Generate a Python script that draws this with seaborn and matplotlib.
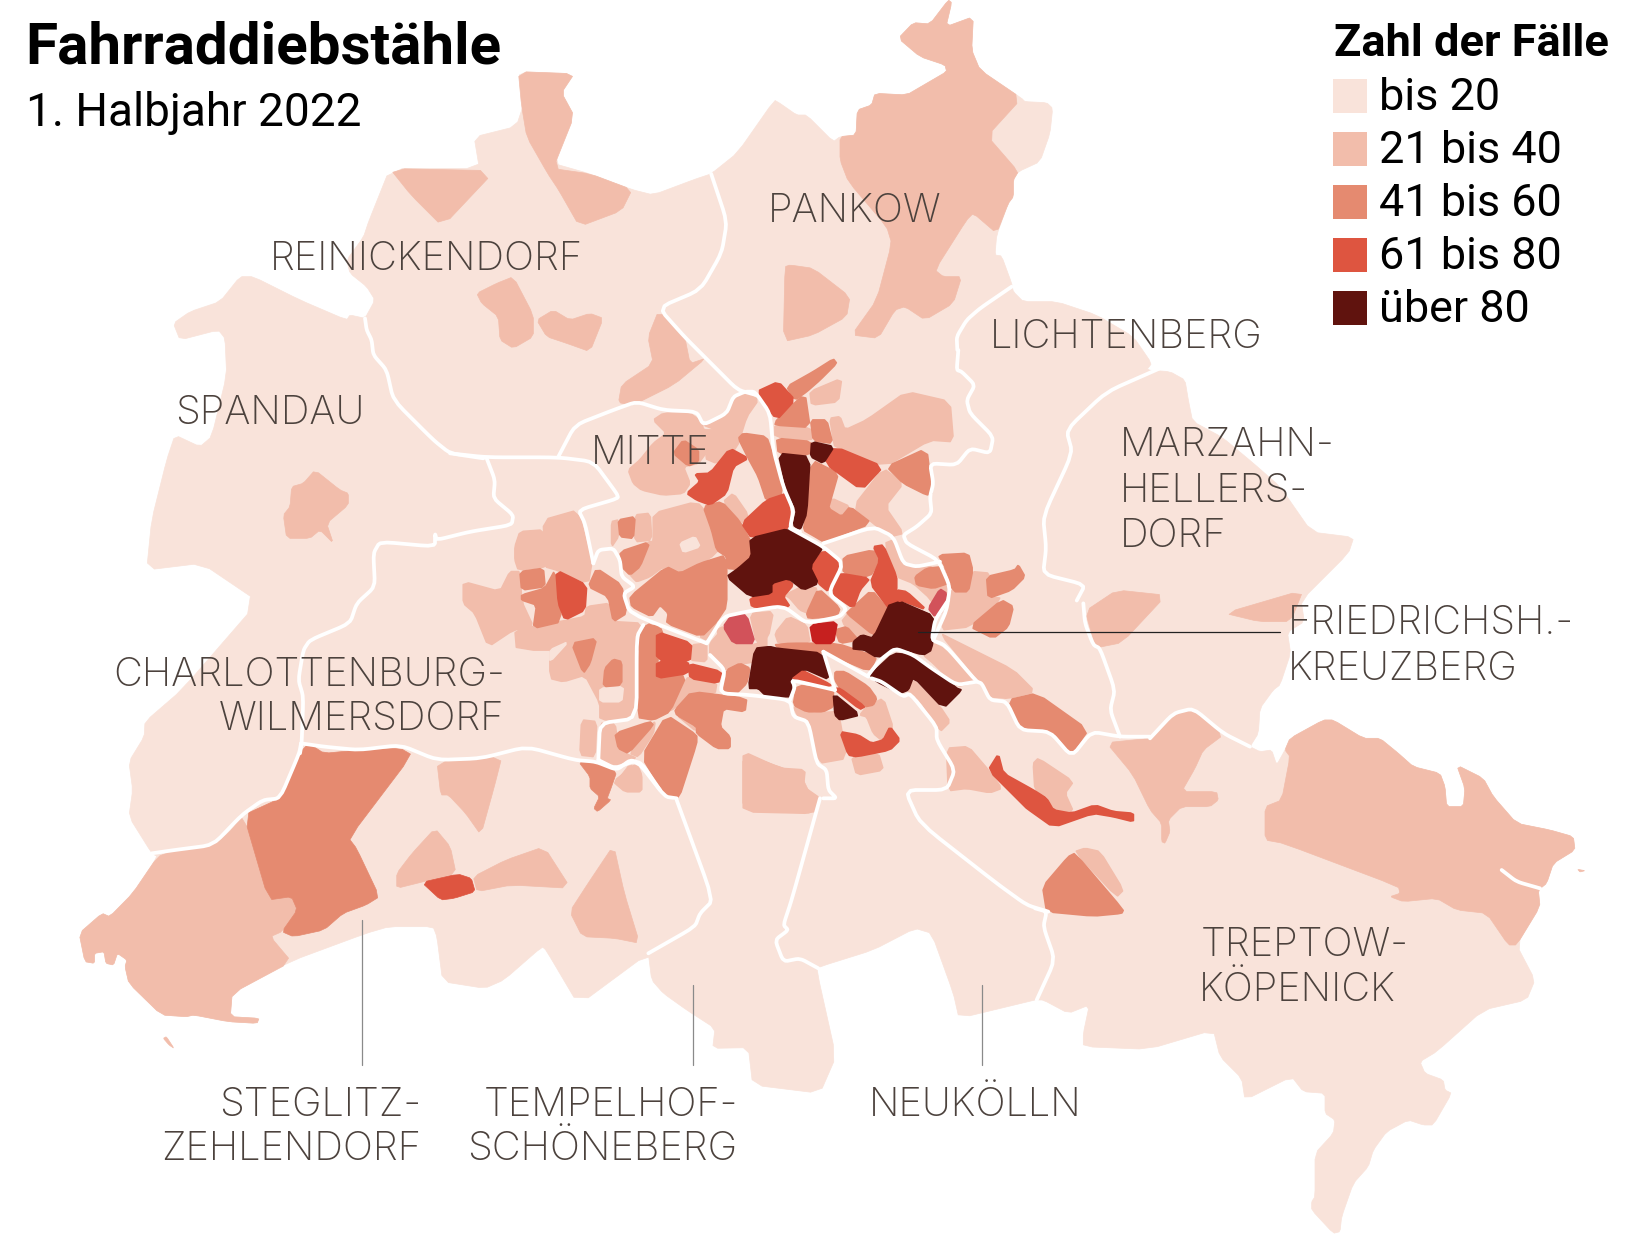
import matplotlib
matplotlib.use("Agg")
import matplotlib.pyplot as plt
import seaborn as sns

TITLE = "Fahrraddiebstähle"
SUBTITLE = "1. Halbjahr 2022"
LEGEND_TITLE = "Zahl der Fälle"
LEVEL_LABELS = ["bis 20", "21 bis 40", "41 bis 60", "61 bis 80", "über 80"]
LEVEL_COLORS = ["#f9e3da", "#f2bdab", "#e58a70", "#de5540", "#60130e"]
RED = "#c6201f"
PINK = "#d2525a"
TEXT_GREY = "#4c423d"

# Map geometry: each traced block is stated in its own reading frame (origin, x step, y step)
K = 1652 / 1568
VIEW = (0, 0, K, K)
Z2 = (450, 350, 1/3, 1/3)
Z3 = (700, 350, 1/3, 1/3)
Z4 = (550, 600, 1/3, 1/3)
Z5 = (800, 600, 1/3, 1/3)
Z6 = (620, 780, 1/3, 1/3)
Z7 = (60, 720, 600/1568, 1/3)
ZA = (1150, 690, 1/3, 1/3)
ZB = (1000, 950, 1/3, 1/3)
ZC = (100, 260, 1/3, 1/3)
ZD = (780, 0, 1/3, 1/3)


def P(frame, pts):
    x0, y0, sx, sy = frame
    return [(x0 + x * sx, y0 + y * sy) for x, y in pts]


def rounded(pts, closed=True, rounds=1, cut=0.14):
    for _ in range(rounds):
        out = []
        n = len(pts)
        last = n if closed else n - 1
        if not closed:
            out.append(pts[0])
        for i in range(last):
            a, b = pts[i], pts[(i + 1) % n]
            out.append((a[0] + (b[0] - a[0]) * cut, a[1] + (b[1] - a[1]) * cut))
            out.append((a[0] + (b[0] - a[0]) * (1 - cut), a[1] + (b[1] - a[1]) * (1 - cut)))
        if not closed:
            out.append(pts[-1])
        pts = out
    return pts


OUTLINE_PANKOW_N = [(355,115),(400,68),(450,72),(505,0),(515,8),(498,80),(580,50),(575,150),(600,210),(725,295),(735,305),(800,308),(818,325),(810,400),(780,485),(715,515),(700,540),(700,590),(685,610),(650,705),(645,765),(665,768),(695,850),(700,875),(730,905),(830,905),(950,945),(1060,1010),(1115,1090),(1100,1110),(1170,1115),(1215,1140),(1225,1200)]
OUTLINE_MARZAHN_E = [(1132,400),(1160,415),(1190,440),(1215,462),(1245,505),(1285,510),(1280,525),(1235,570),(1238,590),(1222,600),(1225,620),(1215,650)]
OUTLINE_TREPTOW_E = [(370,0),(330,55),(325,130),(300,170),(330,185),(365,180),(380,225),(405,180),(420,145),(520,90),(550,90),(640,145),(690,145),(745,190),(790,230),(870,250),(885,290),(890,350),(940,350),(945,295),(920,225),(1000,265),(1030,320),(1100,400),(1200,420),(1270,440),(1275,480),(1210,520),(1190,580),(1165,600),(1170,650),(1100,765),(1155,870),(1130,930),(1000,960),(860,1085),(810,1115),(825,1150),(880,1170),(885,1200)]
OUTLINE_TREPTOW_S = [(1355,430),(1300,525),(1270,525),(1225,510),(1160,545),(1120,600),(1105,650),(1060,700),(1025,800),(1020,845),(1000,850),(935,780),(935,755),(945,740),(945,610),(1000,550),(1005,510),(975,490),(975,430),(910,425),(875,380),(735,450),(725,385),(660,320),(640,240),(445,298)]
OUTLINE_SOUTH = [(250,290),(250,250),(268,165),(205,190),(130,150),(105,150)]
OUTLINE_NEUKOELLN = [(1245,660),(1017,715),(1000,640),(935,460),(885,445),(760,510),(600,560),(590,570),(648,830),(600,940),(398,915),(385,803),(278,805),(285,745),(200,690),(130,640),(95,600),(85,520)]
OUTLINE_SOUTH_WEST = [(1355,855),(1270,690),(1260,680),(1160,780),(1110,805),(1000,785),(985,650),(975,620),(860,620),(800,640),(600,725),(450,820),(445,890),(520,895),(515,910),(440,905),(350,885),(330,890),(265,885),(180,790),(170,740),(175,720),(150,700),(140,735),(120,730),(115,695),(90,700),(90,730),(65,725),(50,640),(110,580),(130,590),(190,520),(255,410),(240,400),(180,290),(190,210),(180,125),(220,50)]
OUTLINE_SPANDAU = [(135,1385),(245,1290),(475,1025),(305,910),(140,930),(155,780),(200,600),(225,525),(300,560),(335,530),(380,345),(375,235),(355,210),(240,240),(220,190),(270,155),(360,125),(420,50),(460,50),(600,120),(740,180),(750,165),(795,175),(825,120),(800,80),(750,40),(740,0)]
OUTLINE_REINICKENDORF_N = [(345,225),(350,210),(370,160),(455,160),(450,130),(490,120),(500,90),(492,68),(545,70),(533,88),(545,110),(525,155),(560,165),(600,180),(620,185),(660,170),(675,165),(700,145),(735,95)]
OUTLINE_PANKOW_W = [(0,310),(50,345),(80,345),(160,425),(180,410),(228,405),(232,330),(275,315),(285,280),(380,285),(440,250),(500,215),(495,195),(420,170)]
ISLET = [(270,955),(278,950),(298,985),(285,975)]
ISLET_EAST = [(1283,538),(1305,542),(1290,546)]

# (level, points): level 0..4 follows LEVEL_LABELS
VIEW_AREAS = [
    (1, [(492,68),(545,70),(533,88),(545,110),(525,160),(560,165),(600,180),(590,200),(550,215),(530,180),(520,165),(500,130),(495,100)]),
    (1, [(370,160),(470,162),(420,215),(390,185)]),
    (1, [(625,295),(650,320),(655,345),(670,340),(640,365),(600,385),(587,382),(590,365),(620,345),(615,320)]),
    (1, [(705,715),(760,735),(778,772),(705,770)]),
    (1, [(1030,580),(1060,560),(1107,565),(1065,610),(1040,615)]),
    (1, [(1162,582),(1237,560),(1225,590),(1195,590)]),
]
ZA_AREAS = [
    (1, [(405,180),(420,145),(520,90),(550,90),(640,145),(690,145),(745,190),(790,230),(870,250),(885,290),(890,350),(940,350),(945,295),(920,225),(1000,265),(1030,320),(1100,400),(1200,420),(1270,440),(1275,480),(1210,520),(1190,580),(1165,600),(1170,650),(1100,765),(1075,765),(1010,670),(920,660),(860,625),(760,635),(720,620),(750,610),(745,590),(400,460),(345,450),(345,350),(395,330),(420,200)]),
    (1, [(-131,158),(0,145),(70,70),(130,60),(220,135),(160,180),(135,235),(95,305),(200,305),(205,330),(180,350),(95,350),(55,390),(60,425),(45,460),(35,455),(35,400),(0,360),(-52,253)]),
    (1, ISLET_EAST),
]
ZC_AREAS = [
    (1, [(645,630),(720,690),(745,700),(745,735),(680,790),(700,850),(660,810),(630,835),(560,835),(550,765),(570,740),(575,680),(610,670)]),
    (1, [(1130,100),(1190,70),(1240,50),(1300,165),(1300,230),(1240,265),(1200,240),(1195,170),(1145,130)]),
    (1, [(1310,180),(1360,150),(1410,180),(1470,160),(1510,175),(1470,275),(1400,250),(1340,230)]),
]
ZD_AREAS = [
    (1, [(355,115),(400,68),(450,72),(505,0),(515,8),(498,80),(580,50),(575,150),(600,210),(725,295),(622,408),(715,515),(700,540),(700,590),(685,610),(650,700),(580,640),(560,660),(465,810),(490,830),(545,830),(520,910),(435,960),(375,920),(345,930),(295,1015),(215,1005),(290,900),(335,730),(320,680),(205,545),(180,480),(180,410),(228,405),(232,330),(275,315),(285,280),(380,285),(440,250),(500,215),(495,195),(420,170)]),
    (1, [(15,800),(30,795),(100,805),(210,890),(200,950),(100,1005),(10,1025)]),
]
Z7_AREAS = [
    (1, [(480,285),(545,540),(605,530),(620,570),(580,635),(550,650),(605,725),(450,820),(445,890),(520,895),(515,910),(440,905),(350,885),(330,890),(265,885),(180,790),(170,740),(175,720),(150,700),(140,735),(120,730),(115,695),(90,700),(90,730),(65,725),(50,640),(110,580),(130,590),(190,520),(255,410),(300,390),(400,375),(440,340)]),
    (2, [(650,70),(690,100),(780,90),(890,85),(920,105),(755,355),(775,385),(835,530),(800,555),(740,580),(690,630),(610,650),(580,635),(620,570),(605,530),(545,540),(480,285),(575,235),(625,100)]),
    (1, [(985,125),(1155,110),(1135,200),(1100,345),(1060,280),(1015,225),(995,225)]),
    (1, [(980,325),(1020,380),(1035,460),(950,485),(880,505),(880,460),(920,400)]),
    (3, [(945,487),(1040,462),(1075,475),(1085,515),(1030,535),(995,540)]),
    (1, [(1080,470),(1165,420),(1265,380),(1335,505),(1180,495),(1090,515)]),
    (1, [(1447,375),(1475,520),(1515,670),(1450,655),(1365,650),(1332,575),(1380,490)]),
    (2, [(1355,125),(1405,128),(1455,155),(1440,205),(1430,235),(1440,240),(1405,275),(1395,265),(1410,230),(1385,205),(1385,170)]),
    (1, [(1450,190),(1490,130),(1520,170),(1520,215),(1480,215)]),
]
Z2_AREAS = [
    (1, [(610,210),(640,190),(720,190),(755,215),(760,240),(800,240),(790,280),(760,320),(745,340),(700,350),(720,400),(700,430),(640,435),(575,420),(550,400),(535,360),(570,330),(610,280),(650,250)]),
    (1, [(760,225),(830,190),(850,140),(885,125),(925,150),(890,200),(860,295),(800,340),(765,325),(790,270),(800,240)]),
    (2, [(670,310),(700,270),(745,300),(745,335),(715,348)]),
    (3, [(710,430),(750,395),(735,372),(780,370),(840,295),(895,325),(850,350),(830,430),(780,465),(740,450)]),
    (2, [(865,265),(880,250),(950,260),(970,320),(1000,430),(950,455),(925,380),(895,325)]),
    (1, [(820,455),(850,430),(895,495),(875,520)]),
    (3, [(875,520),(950,450),(1010,430),(1030,480),(1020,535),(905,565)]),
    (2, [(760,470),(815,455),(870,515),(905,580),(900,625),(865,658),(830,655),(830,620),(800,600),(785,540)]),
    (1, [(610,490),(740,455),(790,510),(805,570),(800,610),(700,675),(640,650),(600,680),(560,695),(550,685),(510,640),(590,580),(600,575),(610,575)]),
    (1, [(555,495),(600,490),(605,570),(555,575)]),
    (1, [(485,515),(505,510),(505,560),(485,590)]),
    (2, [(505,510),(555,500),(550,565),(510,560)]),
    (2, [(510,605),(600,575),(570,650),(540,675),(515,650)]),
    (0, [(690,580),(735,560),(750,590),(700,607)]),
    (1, [(280,510),(385,480),(425,640),(415,700),(320,660),(285,650)]),
    (1, [(195,590),(210,545),(280,540),(300,620),(290,650),(205,660),(195,630)]),
    (2, [(210,665),(280,655),(285,710),(215,720)]),
    (2, [(215,735),(285,715),(315,660),(335,815),(250,835),(260,765),(215,750)]),
    (3, [(318,660),(410,705),(405,780),(345,810),(325,760)]),
    (2, [(440,655),(515,705),(530,790),(490,815),(475,740),(415,710)]),
    (1, [(40,695),(150,725),(180,665),(210,665),(215,755),(250,830),(190,840),(115,890),(75,790),(40,760)]),
    (1, [(195,840),(330,815),(405,800),(410,770),(480,760),(490,815),(575,820),(560,900),(200,900)]),
    (2, [(540,740),(650,650),(690,670),(750,640),(830,615),(830,770),(800,815),(755,860),(650,820),(655,790),(630,765),(605,800),(545,770)]),
    (0, [(610,790),(630,765),(660,780),(650,815)]),
    (1, [(750,860),(770,810),(805,820),(770,870)]),
    (2, [(570,880),(590,820),(640,840),(620,900),(560,900)]),
]
Z3_AREAS = [
    (3, [(170,125),(235,95),(285,150),(230,210)]),
    (2, [(260,110),(340,65),(400,27),(410,40),(360,90),(320,125),(285,150)]),
    (1, [(330,125),(425,85),(415,155),(335,165)]),
    (2, [(230,210),(315,130),(330,232),(225,225)]),
    (1, [(225,225),(335,235),(335,272),(225,260)]),
    (2, [(230,265),(335,275),(330,315),(235,310)]),
    (4, [(235,310),(330,320),(320,490),(300,540),(280,525),(290,480),(260,420)]),
    (2, [(332,210),(380,210),(398,280),(340,272)]),
    (4, [(335,275),(402,290),(370,340),(332,320)]),
    (3, [(375,340),(405,290),(550,350),(485,420)]),
    (1, [(390,205),(420,200),(435,240),(500,210),(620,125),(750,155),(760,275),(690,270),(555,350),(405,290),(400,270)]),
    (2, [(560,350),(680,295),(697,430),(680,435),(610,400)]),
    (1, [(460,470),(550,355),(610,400),(555,470),(610,550),(570,560),(520,520)]),
    (1, [(385,470),(395,445),(450,470),(425,500)]),
    (2, [(335,330),(415,370),(395,440),(385,475),(425,500),(450,470),(515,520),(370,575),(345,560),(310,540),(320,490)]),
    (4, [(150,565),(270,535),(370,590),(330,650),(355,700),(310,720),(265,685),(215,700),(215,730),(150,740),(80,680),(115,655),(155,620)]),
    (3, [(332,650),(370,600),(425,640),(410,670),(385,725),(355,700)]),
    (3, [(150,745),(215,730),(220,695),(260,685),(280,705),(250,740),(270,770),(210,775),(155,770)]),
    (1, [(255,735),(305,710),(355,715),(325,790),(300,780),(270,745)]),
    (2, [(355,715),(420,775),(410,800),(325,805),(320,790)]),
    (2, [(430,620),(520,600),(540,630),(510,680),(430,670)]),
    (1, [(555,580),(580,570),(610,640),(645,655),(700,650),(750,720),(720,800),(690,745),(640,700),(590,680)]),
    (3, [(520,590),(550,585),(590,680),(590,720),(570,780),(510,700),(540,630)]),
    (3, [(420,670),(510,685),(480,720),(460,775),(395,730),(410,690)]),
    (2, [(450,780),(515,720),(570,785),(545,850),(520,855),(440,790)]),
    (2, [(645,680),(680,655),(730,650),(745,700),(700,715),(650,705)]),
    (2, [(715,615),(805,610),(818,660),(805,725),(760,725),(735,650)]),
    (1, [(815,665),(870,670),(860,740),(905,745),(810,830),(720,840),(750,720),(805,725)]),
    (2, [(860,680),(945,660),(955,645),(975,680),(935,720),(865,745)]),
    (2, [(810,830),(905,750),(940,770),(925,830),(880,865)]),
    (3, [(590,720),(620,725),(680,780),(600,750),(570,780)]),
    (4, [(460,875),(485,855),(520,865),(575,750),(705,800),(695,900),(460,900)]),
    (2, [(405,840),(440,830),(475,870),(420,880)]),
    (1, [(425,815),(445,790),(520,855),(475,870)]),
    (1, [(150,790),(220,785),(205,860),(170,880)]),
    (1, [(225,850),(265,800),(320,825),(330,880),(235,880)]),
    (1, [(75,900),(50,840),(70,830),(100,880),(165,885),(200,860),(200,900)]),
]
Z4_AREAS = [
    (1, [(0,80),(100,60),(270,85),(260,355),(150,360),(150,310),(105,225),(40,245),(0,235)]),
    (0, [(0,150),(55,125),(0,185)]),
    (2, [(270,85),(320,75),(330,90),(320,230),(410,225),(360,335),(310,360),(262,352)]),
    (3, [(320,95),(425,130),(420,185),(320,180)]),
    (3, [(320,185),(415,185),(415,220),(320,235)]),
    (3, [(415,190),(515,215),(505,250),(420,235)]),
    (1, [(425,135),(470,130),(470,185),(420,180)]),
    (2, [(65,130),(140,115),(120,190),(100,220)]),
    (2, [(160,260),(165,205),(190,178),(215,185),(215,255)]),
    (0, [(150,265),(220,260),(215,305),(150,305)]),
    (1, [(395,260),(415,230),(500,250),(495,280),(425,280),(360,335),(335,320)]),
    (2, [(375,330),(425,275),(590,295),(585,335),(520,325),(510,380),(540,410),(540,445),(500,445),(440,400),(440,380),(380,345)]),
    (2, [(275,470),(350,345),(440,405),(440,430),(385,600),(345,585)]),
    (1, [(380,345),(420,355),(440,395)]),
    (2, [(195,400),(300,365),(310,375),(235,460),(205,445)]),
    (1, [(240,460),(300,380),(315,365),(310,400),(265,470)]),
    (1, [(150,370),(195,370),(205,445),(225,460),(260,475),(195,500),(150,480)]),
    (1, [(95,360),(140,365),(135,470),(90,465)]),
    (1, [(190,545),(260,490),(275,525),(275,575),(225,575)]),
    (1, [(580,455),(690,505),(765,510),(760,560),(810,595),(795,640),(580,635),(580,550)]),
    (1, [(480,130),(515,90),(535,145),(610,135),(615,185),(555,195),(525,210),(480,165)]),
    (2, [(515,270),(530,210),(570,190),(600,205),(590,250),(560,280)]),
    (4, [(595,265),(615,145),(660,140),(680,145),(820,160),(840,240),(760,205),(720,235),(730,290),(650,290),(625,265)]),
    (3, [(720,235),(745,205),(845,255),(830,260)]),
    (2, [(670,135),(720,130),(860,130),(980,170),(960,215),(820,155),(800,165),(740,165)]),
    (2, [(730,315),(740,255),(850,270),(850,320),(820,335),(770,335)]),
    (1, [(730,320),(780,340),(865,335),(890,475),(805,490),(780,360),(745,350)]),
    (4, [(850,280),(930,345),(870,360),(855,345)]),
    (3, [(850,265),(870,265),(945,320),(930,328)]),
    (2, [(855,215),(885,215),(955,260),(980,295),(970,315),(945,320),(870,265),(855,240)]),
    (1, [(930,345),(950,320),(1000,295),(1030,385),(1000,425),(970,400),(950,350)]),
    (3, [(870,395),(925,405),(965,430),(1000,420),(1020,380),(1050,420),(1020,450),(920,470),(895,465)]),
    (1, [(905,470),(985,460),(1000,510),(920,525)]),
]
Z5_AREAS = [
    (4, [(160,130),(190,105),(215,120),(245,100),(290,0),(405,50),(395,150),(370,165),(285,140),(235,175)]),
    (4, [(210,225),(280,160),(340,165),(420,220),(470,265),(485,270),(430,325),(340,230),(325,270),(300,280),(230,245)]),
    (1, [(335,235),(420,320),(450,365),(420,395),(360,300),(325,280)]),
    (1, [(400,130),(430,145),(500,215),(530,245),(470,260),(400,190),(370,165)]),
    (1, [(420,100),(480,130),(640,210),(705,275),(625,295),(570,290),(535,240)]),
    (2, [(625,300),(710,280),(865,390),(815,460),(760,395),(660,385)]),
    (1, [(700,490),(715,475),(820,545),(795,580),(820,635),(760,630),(745,590),(705,570)]),
    (3, [(565,510),(595,462),(610,520),(700,570),(740,595),(760,630),(815,640),(885,615),(940,635),(1000,640),(1000,665),(940,650),(880,640),(760,682),(680,625),(670,615)]),
    (1, [(440,445),(505,440),(565,510),(605,565),(570,578),(500,565),(445,572)]),
    (1, [(825,755),(855,745),(900,755),(970,870),(950,890)]),
    (2, [(728,860),(805,770),(825,760),(970,930),(965,940),(880,948),(740,935)]),
]
RED_AREA = [(330,825),(412,815),(400,880),(340,880)]
PINK_AREA = [(70,830),(95,795),(140,795),(165,880),(100,880)]
PINK_AREA_2 = [(685,775),(720,717),(740,730),(730,775),(705,800)]

BORDERS = [
    P(VIEW, [(675,165),(690,210),(685,240),(665,275),(625,292),(650,320),(675,345),(700,370),(718,375)]),
    P(ZC, [(795,175),(800,210),(815,240),(820,285),(860,330),(880,420),(1000,540),(1050,580),(1150,595)]),
    P(Z2, [(0,310),(110,322),(325,322),(430,335),(500,430),(505,445),(385,480),(405,520),(430,640)]),
    P(Z2, [(325,320),(375,225),(490,180),(560,155),(640,180),(740,185),(760,225),(830,190),(850,140),(885,125),(915,125),(960,190),(970,300),(1000,410),(1030,480),(1020,535),(1050,545)]),
    P(ZC, [(1160,595),(1185,660),(1180,715),(1240,765),(1235,795),(1110,815),(1010,840),(1005,820),(1005,860),(840,845),(820,880),(825,980),(770,1030),(750,1090),(630,1140),(610,1170),(595,1260),(610,1310),(605,1450),(600,1480)]),
    P(Z7, [(630,70),(625,100),(575,235),(530,240),(475,285),(400,375),(300,390),(240,400)]),
    P(Z7, [(630,70),(690,80),(780,90),(890,75),(985,120),(1100,115),(1220,80),(1345,120),(1400,125),(1455,150),(1490,120),(1520,130),(1568,210)]),
    P(Z2, [(430,640),(445,600),(490,595),(510,630),(515,680),(555,710),(520,730),(540,790),(770,880)]),
    P(Z3, [(20,880),(70,800),(140,785),(230,770),(260,775),(320,820),(420,800),(440,775),(385,730),(430,640),(370,590),(270,535)]),
    P(Z4, [(280,75),(260,110),(260,355),(150,370),(145,480)]),
    P(Z4, [(145,480),(195,505),(260,480),(345,590),(380,595)]),
    P(Z6, [(170,60),(280,360),(240,400),(225,440),(85,520)]),
    P(Z4, [(480,165),(525,210),(510,280),(600,285),(720,300),(730,350),(775,365),(800,490),(830,510),(835,570),(860,595),(820,595)]),
    P(Z6, [(600,55),(515,360),(490,435),(505,450),(465,480),(490,545),(540,535),(595,565)]),
    P(Z4, [(820,155),(855,270)]),
    P(Z4, [(720,300),(735,260),(725,240),(855,270)]),
    P(Z4, [(820,155),(955,230)]),
    P(Z5, [(205,225),(240,180),(285,145),(340,165),(395,205),(470,255),(530,245)]),
    P(Z5, [(215,235),(245,245),(310,290),(330,280),(410,380),(410,420),(465,510),(440,570),(315,570),(360,670),(590,850),(680,915),(745,935)]),
    P(Z6, [(1245,385),(1280,395),(1270,440),(1305,540),(1250,660)]),
    P(Z5, [(445,0),(405,60),(395,120),(435,135),(530,245),(545,250),(570,300),(620,305),(660,390),(750,395),(815,470),(875,395),(960,410),(1050,410)]),
    P(ZA, [(0,145),(70,70),(130,55),(220,130),(300,170)]),
    P(VIEW, [(1100,350),(1050,372),(1012,408),(1018,430),(990,490),(993,520),(990,545),(1030,555),(1022,570)]),
    P(Z5, [(850,10),(855,70),(880,135),(900,145),(945,270),(930,330),(960,410)]),
    P(Z3, [(700,870),(740,780),(750,710),(715,630),(620,580),(610,555),(650,530),(695,490),(690,440),(700,400),(690,340),(770,345),(810,295),(870,310),(880,260),(810,190),(800,150),(825,105),(785,65),(770,60),(775,0)]),
    P(ZD, [(695,860),(600,925),(560,960),(530,1010),(532,1050)]),
    P(Z3, [(720,635),(650,650),(610,640),(580,560),(520,530),(370,580)]),
    P(ZA, [(1055,540),(1100,575),(1170,595)]),
]

# label text, x, baseline y in the overview frame, alignment
LABELS = [
    ("PANKOW", 729, 211, "left"), ("REINICKENDORF", 256, 256, "left"), ("LICHTENBERG", 940, 330, "left"),
    ("SPANDAU", 166, 402, "left"), ("MITTE", 561, 440, "left"),
    ("MARZAHN-", 1063, 433, "left"), ("HELLERS-", 1063, 476, "left"), ("DORF", 1063, 519, "left"),
    ("FRIEDRICHSH.-", 1222, 602, "left"), ("KREUZBERG", 1222, 645, "left"),
    ("CHARLOTTENBURG-", 479, 651, "right"), ("WILMERSDORF", 479, 693, "right"),
    ("TREPTOW-", 1140, 907, "left"), ("KÖPENICK", 1138, 950, "left"),
    ("STEGLITZ-", 400, 1059, "right"), ("ZEHLENDORF", 400, 1101, "right"),
    ("TEMPELHOF-", 701, 1059, "right"), ("SCHÖNEBERG", 700, 1101, "right"),
    ("NEUKÖLLN", 825, 1059, "left"),
]
LEADERS = [
    ([362, 362], [920, 1065], "#8a8a8a"),
    ([693, 693], [985, 1065], "#8a8a8a"),
    ([982, 982], [985, 1065], "#8a8a8a"),
    ([918, 1280], [632, 632], "#222222"),
]
SWATCH_X = [1350] * 5
SWATCH_Y = [96, 149, 202, 255, 308]
LEGEND_TEXT_Y = [110, 163, 216, 269, 322]

sns.set_theme(style="white")
plt.rcParams["font.family"] = ["Roboto", "DejaVu Sans"]
palette = sns.color_palette(LEVEL_COLORS)

fig = plt.figure(figsize=(16.52, 12.39), dpi=100, facecolor="white")
ax = fig.add_axes([0, 0, 1, 1])


def fill(pts, color, z, stroke=1.3):
    xs, ys = zip(*rounded(pts))
    ax.fill(xs, ys, facecolor=color, edgecolor=color, linewidth=stroke, joinstyle="round", zorder=z)


outline = (P(ZD, OUTLINE_PANKOW_N) + P(VIEW, OUTLINE_MARZAHN_E) + P(ZA, OUTLINE_TREPTOW_E)
           + P(ZB, OUTLINE_TREPTOW_S) + P(ZB, OUTLINE_SOUTH) + P(Z6, OUTLINE_NEUKOELLN)
           + P(Z7, OUTLINE_SOUTH_WEST) + P(ZC, OUTLINE_SPANDAU) + P(VIEW, OUTLINE_REINICKENDORF_N)
           + P(ZD, OUTLINE_PANKOW_W))
fill(outline, palette[0], 1, stroke=0.5)
fill(P(Z7, ISLET), palette[1], 1, stroke=0.5)

DRAW_ORDER = {1: 2, 0: 3, 2: 4, 3: 5, 4: 6}
for frame, areas in [(VIEW, VIEW_AREAS), (ZA, ZA_AREAS), (ZC, ZC_AREAS), (ZD, ZD_AREAS), (Z7, Z7_AREAS),
                     (Z2, Z2_AREAS), (Z3, Z3_AREAS), (Z4, Z4_AREAS), (Z5, Z5_AREAS)]:
    for level, pts in areas:
        thin = frame in (VIEW, ZA, ZC, ZD, Z7)
        fill(P(frame, pts), palette[level], DRAW_ORDER[level], stroke=0.5 if thin else 1.3)
fill(P(Z3, RED_AREA), RED, 7)
fill(P(Z3, PINK_AREA), PINK, 7)
fill(P(Z3, PINK_AREA_2), PINK, 7)

for line in BORDERS:
    xs, ys = zip(*rounded(line, closed=False, rounds=2, cut=0.15))
    sns.lineplot(x=list(xs), y=list(ys), sort=False, estimator=None, color="white", linewidth=2.7, ax=ax, zorder=8, legend=False)

for xs, ys, c in LEADERS:
    sns.lineplot(x=xs, y=ys, sort=False, estimator=None, color=c, linewidth=0.9, ax=ax, zorder=9, legend=False)

sns.scatterplot(x=SWATCH_X, y=SWATCH_Y, hue=LEVEL_LABELS, palette=LEVEL_COLORS, marker="s", s=610, linewidth=0, ax=ax, legend=False, zorder=9)
ax.set_xlim(0, 1652)
ax.set_ylim(1239, 0)
ax.axis("off")

for text, x, y, ha in LABELS:
    ax.text(x * K, y * K, text, ha=ha, va="baseline", fontsize=28.7, family=["Inter", "DejaVu Sans"], fontweight="light", color=TEXT_GREY, zorder=10)

ax.text(25, 64, TITLE, fontsize=42, fontweight="bold", color="black", va="baseline", zorder=10)
ax.text(26, 126, SUBTITLE, fontsize=33, color="black", va="baseline", zorder=10)
ax.text(1334, 56, LEGEND_TITLE, fontsize=32.5, fontweight="bold", color="black", va="baseline", zorder=10)
for label, y in zip(LEVEL_LABELS, LEGEND_TEXT_Y):
    ax.text(1379, y, label, fontsize=32.4, color="black", va="baseline", zorder=10)

fig.savefig("out.png", dpi=100, facecolor="white")
